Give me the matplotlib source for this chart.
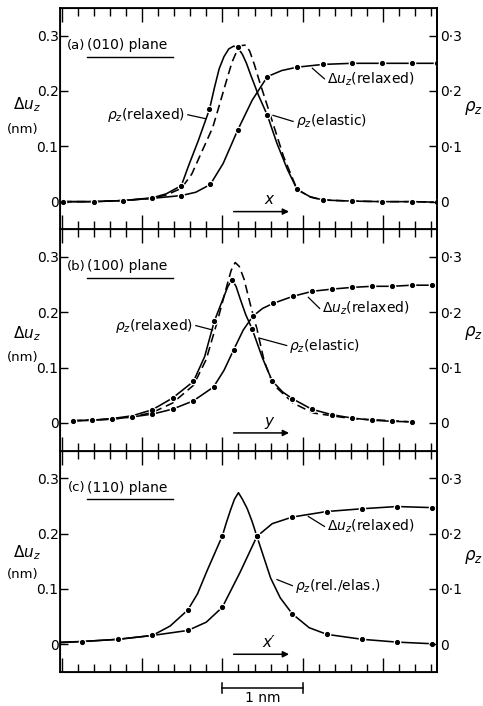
import numpy as np
import matplotlib
matplotlib.use("Agg")
import matplotlib.pyplot as plt

plt.rcParams["font.family"] = ["DejaVu Sans"]
plt.rcParams["mathtext.fontset"] = "dejavusans"

# ----------------------------------------------------------------------
# Data (x in nm, Delta u_z in nm, rho_z dimensionless)
# ----------------------------------------------------------------------
# (a) (010) plane
a_du_x = [-1.98, -1.60, -1.23, -0.87, -0.51, -0.33, -0.15, 0.01, 0.19, 0.37,
          0.56, 0.74, 0.93, 1.25, 1.61, 1.99, 2.36, 2.67]
a_du_y = [0.0, 0.0, 0.002, 0.006, 0.011, 0.017, 0.031, 0.069, 0.129, 0.183,
          0.226, 0.237, 0.243, 0.248, 0.250, 0.250, 0.250, 0.250]
a_du_mx = [-1.98, -1.60, -1.23, -0.87, -0.51, -0.15, 0.19, 0.56, 0.93, 1.25,
           1.61, 1.99, 2.36, 2.67]
a_du_my = [0.0, 0.0, 0.002, 0.006, 0.011, 0.031, 0.129, 0.226, 0.243, 0.248,
           0.250, 0.250, 0.250, 0.250]

a_rel_x = [-1.98, -1.60, -1.23, -0.87, -0.70, -0.51, -0.42, -0.30, -0.16, -0.10,
           -0.04, 0.02, 0.08, 0.14, 0.19, 0.25, 0.30, 0.35, 0.45, 0.56, 0.68,
           0.81, 0.93, 1.09, 1.25, 1.61, 1.99, 2.36, 2.67]
a_rel_y = [0.0, 0.0, 0.002, 0.007, 0.014, 0.029, 0.065, 0.110, 0.167, 0.205,
           0.240, 0.262, 0.276, 0.281, 0.279, 0.266, 0.250, 0.230, 0.192, 0.156,
           0.105, 0.058, 0.022, 0.009, 0.003, 0.001, 0.0, 0.0, -0.001]
a_rel_mx = [-0.51, -0.16, 0.19, 0.56, 0.93, 1.25, 1.61, 1.99, 2.36, 2.67]
a_rel_my = [0.029, 0.167, 0.279, 0.156, 0.022, 0.003, 0.001, 0.0, 0.0, -0.001]

a_ela_x = [-1.98, -1.60, -1.23, -0.87, -0.70, -0.51, -0.38, -0.25, -0.12, -0.03,
           0.05, 0.12, 0.18, 0.24, 0.29, 0.34, 0.40, 0.46, 0.60, 0.76, 0.93,
           1.10, 1.25, 1.61, 1.99, 2.36, 2.67]
a_ela_y = [0.0, 0.0, 0.002, 0.006, 0.012, 0.024, 0.050, 0.092, 0.134, 0.178,
           0.218, 0.252, 0.272, 0.282, 0.283, 0.272, 0.247, 0.218, 0.155, 0.082,
           0.022, 0.008, 0.003, 0.001, 0.0, 0.0, -0.001]

# (b) (100) plane
b_du_x = [-1.86, -1.62, -1.37, -1.12, -0.87, -0.62, -0.36, -0.11, 0.02, 0.14,
          0.26, 0.38, 0.50, 0.63, 0.88, 1.12, 1.37, 1.61, 1.86, 2.11, 2.36, 2.61]
b_du_y = [0.004, 0.005, 0.007, 0.011, 0.016, 0.025, 0.040, 0.065, 0.095, 0.132,
          0.168, 0.193, 0.207, 0.216, 0.229, 0.238, 0.242, 0.245, 0.247, 0.247,
          0.249, 0.249]
b_du_mx = [-1.86, -1.62, -1.37, -1.12, -0.87, -0.62, -0.36, -0.11, 0.14, 0.38,
           0.63, 0.88, 1.12, 1.37, 1.61, 1.86, 2.11, 2.36, 2.61]
b_du_my = [0.004, 0.005, 0.007, 0.011, 0.016, 0.025, 0.040, 0.065, 0.132, 0.193,
           0.216, 0.229, 0.238, 0.242, 0.245, 0.247, 0.247, 0.249, 0.249]

b_rel_x = [-1.86, -1.62, -1.37, -1.12, -0.87, -0.62, -0.36, -0.22, -0.10, 0.01,
           0.07, 0.12, 0.17, 0.22, 0.29, 0.37, 0.50, 0.62, 0.75, 0.87, 1.11,
           1.36, 1.61, 1.86, 2.11, 2.36]
b_rel_y = [0.004, 0.005, 0.008, 0.013, 0.024, 0.045, 0.075, 0.120, 0.184, 0.225,
           0.247, 0.259, 0.247, 0.225, 0.196, 0.170, 0.117, 0.076, 0.056, 0.044,
           0.025, 0.015, 0.009, 0.005, 0.003, 0.002]
b_rel_mx = [-0.87, -0.62, -0.36, -0.10, 0.12, 0.37, 0.62, 0.87, 1.11, 1.36,
            1.61, 1.86, 2.11, 2.36]
b_rel_my = [0.024, 0.045, 0.075, 0.184, 0.259, 0.170, 0.076, 0.044, 0.025, 0.015,
            0.009, 0.005, 0.003, 0.002]

b_ela_x = [-1.86, -1.37, -1.12, -0.87, -0.62, -0.36, -0.20, -0.06, 0.06, 0.11,
           0.16, 0.21, 0.27, 0.35, 0.43, 0.52, 0.63, 0.88, 1.13, 1.60, 2.36]
b_ela_y = [0.004, 0.007, 0.011, 0.019, 0.036, 0.068, 0.115, 0.185, 0.250, 0.276,
           0.290, 0.283, 0.260, 0.213, 0.170, 0.112, 0.070, 0.036, 0.018, 0.008,
           0.002]

# (c) (110) plane -- relaxed and elastic rho_z coincide
c_du_x = [-2.00, -1.75, -1.30, -0.87, -0.43, -0.20, 0.0, 0.22, 0.43, 0.62,
          0.87, 1.30, 1.74, 2.17, 2.61, 2.67]
c_du_y = [0.004, 0.005, 0.009, 0.016, 0.025, 0.040, 0.067, 0.130, 0.195, 0.218,
          0.230, 0.240, 0.245, 0.249, 0.247, 0.247]
c_du_mx = [-1.75, -1.30, -0.87, -0.43, 0.0, 0.43, 0.87, 1.30, 1.74, 2.17, 2.61]
c_du_my = [0.005, 0.009, 0.016, 0.025, 0.067, 0.195, 0.230, 0.240, 0.245, 0.249,
           0.247]

c_rho_x = [-2.00, -1.75, -1.30, -0.87, -0.65, -0.43, -0.31, -0.19, 0.0, 0.05,
           0.10, 0.15, 0.20, 0.25, 0.31, 0.37, 0.43, 0.60, 0.72, 0.87, 1.08,
           1.30, 1.74, 2.17, 2.61, 2.67]
c_rho_y = [0.003, 0.005, 0.009, 0.016, 0.033, 0.062, 0.091, 0.133, 0.196, 0.220,
           0.242, 0.262, 0.274, 0.262, 0.245, 0.222, 0.195, 0.120, 0.084, 0.055,
           0.030, 0.018, 0.009, 0.004, 0.001, 0.0]
c_rho_mx = [-0.43, 0.0, 0.43, 0.87, 1.30, 1.74, 2.17, 2.61]
c_rho_my = [0.062, 0.196, 0.195, 0.055, 0.018, 0.009, 0.004, 0.001]

left_ticks = [0.0, 0.1, 0.2, 0.3]
left_labels = ["0", "0.1", "0.2", "0.3"]
right_labels = ["0", "0\u00b71", "0\u00b72", "0\u00b73"]

XLIM = (-2.02, 2.67)
YLIM = (-0.05, 0.35)
LW = 1.15


def curve(ax, x, y, mx=None, my=None, dashed=False):
    if dashed:
        ax.plot(x, y, color="black", lw=LW, dashes=(5.5, 3.0))
    else:
        ax.plot(x, y, color="black", lw=LW)
    if mx is not None:
        ax.plot(mx, my, ls="none", marker="o", ms=5.5, mfc="white",
                mec="none", zorder=3)
        ax.plot(mx, my, ls="none", marker="o", ms=2.7, mfc="black",
                mec="black", zorder=4)


def label(ax, text, xy, xytext, ha="left"):
    ax.plot([xy[0], xytext[0]], [xy[1], xytext[1]], color="black", lw=0.9)
    ax.text(xytext[0] + (0.03 if ha == "left" else -0.03), xytext[1], text,
            ha=ha, va="center", fontsize=10)


def setup(ax, tag, plane, ylab_y, rlab_y, arrow_lab):
    ax.set_xlim(*XLIM)
    ax.set_ylim(*YLIM)
    ax.set_xticks(np.arange(-2, 3, 1.0))
    ax.set_xticks(np.arange(-2, 2.7, 0.2), minor=True)
    ax.set_xticklabels([])
    ax.tick_params(axis="x", which="both", direction="in", top=True,
                   bottom=True, width=1.0)
    ax.tick_params(axis="x", which="major", length=10)
    ax.tick_params(axis="x", which="minor", length=5.5)
    ax.set_yticks(left_ticks)
    ax.set_yticklabels(left_labels)
    ax.tick_params(axis="y", direction="in", length=6, width=1.0, pad=1,
                   labelsize=10)
    for s in ax.spines.values():
        s.set_linewidth(1.3)

    ax2 = ax.twinx()
    ax2.set_ylim(*YLIM)
    ax2.set_yticks(left_ticks)
    ax2.set_yticklabels(right_labels)
    ax2.tick_params(axis="y", direction="in", length=6, width=1.0, pad=2,
                    labelsize=10)
    ax2.spines["right"].set_linewidth(1.3)

    ax.text(-1.70, 0.283, tag, ha="right", va="center", fontsize=9.5)
    ax.text(-1.69, 0.283, plane, ha="left", va="center", fontsize=10)
    ax.plot([-1.68, -0.61], [0.262, 0.262], color="black", lw=1.0)

    ax.text(-0.088, ylab_y[0], r"$\Delta u_z$", transform=ax.transAxes,
            ha="center", va="center", fontsize=11)
    ax.text(-0.098, ylab_y[1], "(nm)", transform=ax.transAxes,
            ha="center", va="center", fontsize=9.5)
    ax.text(1.098, rlab_y, r"$\rho_z$", transform=ax.transAxes,
            ha="center", va="center", fontsize=12)

    ax.annotate("", xy=(0.83, -0.018), xytext=(0.14, -0.018),
                arrowprops=dict(arrowstyle="-|>", lw=1.1, color="black",
                                mutation_scale=9, shrinkA=0, shrinkB=0))
    ax.text(0.58, 0.003, arrow_lab, ha="center", va="center", fontsize=11,
            style="italic")


fig = plt.figure(figsize=(4.83, 7.06), dpi=100)
L, W, H = 0.1242, 0.7805, 0.3135
ax_c = fig.add_axes([L, 0.0482, W, H])
ax_b = fig.add_axes([L, 0.0482 + H, W, H])
ax_a = fig.add_axes([L, 0.0482 + 2 * H, W, H])

# panel (a)
setup(ax_a, "(a)", "(010) plane", (0.565, 0.45), 0.55, "x")
curve(ax_a, a_ela_x, a_ela_y, dashed=True)
curve(ax_a, a_rel_x, a_rel_y, a_rel_mx, a_rel_my)
curve(ax_a, a_du_x, a_du_y, a_du_mx, a_du_my)
label(ax_a, r"$\rho_z$(relaxed)", (-0.21, 0.150), (-0.43, 0.157), ha="right")
label(ax_a, r"$\Delta u_z$(relaxed)", (1.12, 0.241), (1.27, 0.222))
label(ax_a, r"$\rho_z$(elastic)", (0.63, 0.156), (0.88, 0.145))

# panel (b)
setup(ax_b, "(b)", "(100) plane", (0.53, 0.42), 0.53, "y")
curve(ax_b, b_ela_x, b_ela_y, dashed=True)
curve(ax_b, b_rel_x, b_rel_y, b_rel_mx, b_rel_my)
curve(ax_b, b_du_x, b_du_y, b_du_mx, b_du_my)
label(ax_b, r"$\rho_z$(relaxed)", (-0.12, 0.168), (-0.33, 0.176), ha="right")
label(ax_b, r"$\Delta u_z$(relaxed)", (1.07, 0.227), (1.21, 0.207))
label(ax_b, r"$\rho_z$(elastic)", (0.47, 0.153), (0.80, 0.140))

# panel (c)
setup(ax_c, "(c)", "(110) plane", (0.54, 0.44), 0.52, "x\u2032")
curve(ax_c, c_rho_x, c_rho_y, c_rho_mx, c_rho_my)
curve(ax_c, c_du_x, c_du_y, c_du_mx, c_du_my)
label(ax_c, r"$\Delta u_z$(relaxed)", (1.07, 0.231), (1.27, 0.213))
label(ax_c, r"$\rho_z$(rel./elas.)", (0.68, 0.117), (0.87, 0.106))

# 1 nm scale bar under the bottom panel
ax_c.plot([0.0, 1.0], [-0.079, -0.079], color="black", lw=1.1, clip_on=False)
for xe in (0.0, 1.0):
    ax_c.plot([xe, xe], [-0.070, -0.088], color="black", lw=1.1,
              clip_on=False)
ax_c.text(0.5, -0.097, "1 nm", ha="center", va="center", fontsize=10)

fig.savefig("out.png", dpi=100)
